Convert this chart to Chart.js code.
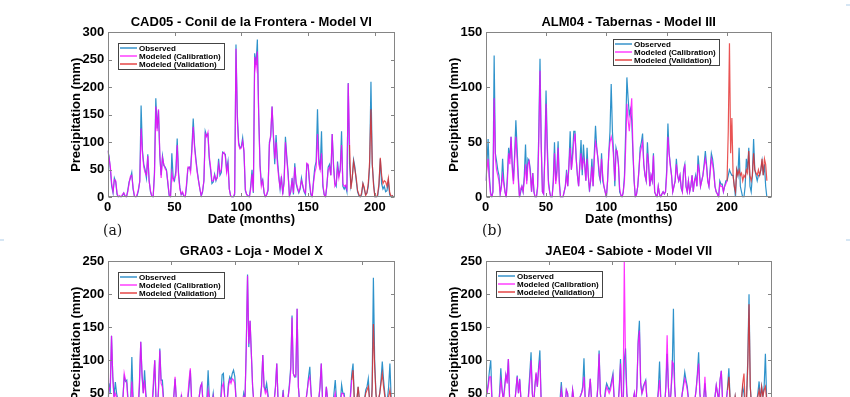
<!DOCTYPE html>
<html lang="en">
<head>
<meta charset="UTF-8">
<title>Observed vs modeled monthly precipitation</title>
<script src="https://cdn.jsdelivr.net/npm/chart.js"></script>
<style>
    body { margin: 0; width: 850px; height: 397px; overflow: hidden; background: #fff; position: relative; }
    canvas { position: absolute; }
    .panel-tag { position: absolute; font-family: 'DejaVu Serif', 'Liberation Serif', serif; font-size: 14px; color: #111; }
    .edge-mark { position: absolute; width: 4px; height: 2px; background: #d6e6f4; }
</style>
</head>
<body>
<canvas id="chartA" width="410" height="240" style="left:0px;top:0px"></canvas>
<canvas id="chartB" width="410" height="240" style="left:378px;top:0px"></canvas>
<canvas id="chartC" width="410" height="240" style="left:0px;top:229px"></canvas>
<canvas id="chartD" width="410" height="240" style="left:378px;top:229px"></canvas>
<div class="panel-tag" style="left:103px;top:222px">(a)</div>
<div class="panel-tag" style="left:482px;top:222px">(b)</div>
<div class="edge-mark" style="left:0;top:239px"></div>
<div class="edge-mark" style="left:846px;top:4px"></div>
<div class="edge-mark" style="left:846px;top:239px"></div>

<script>
// --- data (monthly precipitation, mm) ---
const SERIES_LABELS = ['Observed', 'Modeled (Calibration)', 'Modeled (Validation)'];
const X_TICKS = [0, 50, 100, 150, 200];

// (a) CAD05 - Conil de la Frontera
const OBS_A = [
    85,75,50,20,8,35,28,5,0,2,0,3,8,2,0,12,28,35,45,15,
    2,0,3,12,30,167,85,60,50,35,78,30,10,2,0,45,180,125,158,75,
    40,75,58,55,50,25,3,0,80,35,30,48,107,45,18,5,8,2,0,20,
    52,55,50,90,143,95,70,48,30,15,2,10,30,120,112,115,70,50,25,28,
    42,30,38,70,40,45,82,80,78,50,65,15,3,0,0,5,278,150,100,90,
    92,108,80,12,5,3,0,20,50,8,262,240,287,150,60,25,32,8,0,5,
    12,100,110,165,110,60,113,70,40,15,38,5,30,110,75,45,2,10,35,5,
    62,25,15,8,15,35,20,10,5,60,58,25,5,0,30,55,65,160,70,50,
    120,20,5,0,20,55,60,40,115,60,25,20,65,40,50,120,20,15,20,10,
    208,60,20,35,68,55,30,10,3,0,5,25,15,5,8,20,55,210,60,25,
    0,0,2,20,70,25,15,20,10,12,30,5,0,3,0
];
const MOD_A = [
    85,72,55,25,10,32,30,8,0,3,0,5,8,3,0,10,25,38,40,18,
    2,0,5,15,28,125,80,55,45,40,75,30,12,2,0,40,165,120,160,80,
    35,72,60,52,48,28,5,0,45,30,35,40,95,40,15,5,10,3,0,25,
    55,55,45,85,128,90,65,45,30,15,3,12,30,115,110,118,75,55,30,30,
    40,32,35,60,45,50,80,82,75,45,60,15,2,0,0,8,270,140,95,88,
    90,102,85,15,5,2,0,15,42,10,255,235,265,150,55,20,30,10,0,5,
    15,95,115,165,115,70,100,60,35,18,35,8,25,100,70,40,3,12,30,8,
    55,28,18,10,18,30,22,12,8,62,60,30,8,0,25,45,55,115,60,50,
    80,25,5,0,22,50,55,40,115,55,20,25,55,35,50,95,25,20,22,15,
    207,95,15,35,65,50,35,12,5,0,8,25,18,3,8,25,65,160,60,20,
    0,0,5,25,72,40,25,30,28,20,35,10,2,3,0
];
const CAL_END_A = 181;

// (b) ALM04 - Tabernas
const OBS_B = [
    15,30,53,20,5,0,5,129,40,33,25,20,3,10,35,15,5,0,20,45,
    35,55,30,15,40,70,45,20,0,5,10,5,20,48,15,35,33,25,5,22,
    5,0,0,10,60,126,50,5,3,40,97,50,15,5,0,0,15,50,15,25,
    51,15,0,0,0,5,10,25,10,30,60,25,40,60,60,35,20,10,30,52,
    20,48,30,15,45,20,5,15,35,10,40,65,45,35,20,15,40,15,10,5,
    0,15,40,60,103,60,40,10,45,40,30,5,2,0,5,20,60,109,90,75,
    80,70,40,15,0,3,10,25,45,50,58,30,20,15,50,30,10,20,15,40,
    5,2,0,10,3,0,3,5,3,5,25,67,40,30,20,5,10,15,35,20,
    15,20,8,5,25,30,10,5,15,5,10,20,5,15,20,10,38,25,10,15,
    20,30,42,30,15,10,25,40,35,25,10,5,3,0,15,12,12,5,10,15,
    15,20,25,22,20,20,10,0,25,20,45,10,5,0,0,10,35,25,45,10,
    5,20,53,25,20,15,20,20,25,33,20,30,10,0
];
const MOD_B = [
    15,25,35,15,3,0,5,90,35,25,20,15,3,10,20,12,5,0,15,40,
    30,55,25,12,35,55,35,15,0,8,10,5,15,30,12,30,33,20,5,22,
    5,0,0,8,50,115,45,5,3,35,85,40,12,5,0,0,12,40,12,20,
    45,12,0,0,0,5,10,20,10,30,45,25,35,50,58,35,20,10,28,40,
    25,35,30,15,35,20,8,15,28,10,35,50,45,35,25,15,35,20,10,5,
    0,15,40,50,55,50,35,15,43,42,30,8,2,0,5,15,45,85,70,60,
    75,90,45,15,0,3,10,25,40,45,50,30,20,15,40,30,10,20,15,38,
    5,2,0,10,3,0,3,5,3,5,20,55,40,28,20,5,10,15,30,20,
    15,20,10,5,22,30,10,5,15,5,10,20,5,15,18,10,30,22,10,15,
    20,28,35,28,15,10,22,35,30,22,10,5,3,0,12,10,10,5,10,12,
    15,60,140,40,72,20,10,5,25,20,25,20,22,15,20,18,25,22,42,20,
    15,20,40,25,22,20,25,20,25,35,20,35,30,15
];
const CAL_END_B = 200;

// (c) GRA03 - Loja
const OBS_C = [
    30,65,50,137,75,45,67,50,40,20,10,25,45,75,68,70,40,15,30,105,
    40,20,5,10,25,60,128,80,50,85,50,30,15,5,10,30,60,100,40,20,
    60,118,70,70,40,20,10,5,15,25,35,20,45,72,40,15,10,30,48,20,
    5,10,25,40,60,85,40,15,5,10,20,35,45,60,65,35,20,15,40,85,
    40,20,35,50,30,10,5,10,20,45,78,80,45,20,40,65,75,70,80,85,
    75,40,20,10,5,20,35,50,40,120,230,120,160,110,60,35,20,10,5,15,
    40,60,108,60,55,65,50,30,15,5,15,40,60,95,40,20,15,35,55,30,
    10,20,45,65,90,168,80,75,75,178,60,35,15,5,10,25,40,55,75,90,
    50,30,20,10,5,20,40,60,95,40,20,35,60,40,15,5,10,25,50,70,
    40,15,10,35,63,50,50,30,10,5,20,50,80,95,40,20,40,60,40,20,
    10,20,40,55,60,72,40,15,60,225,100,50,30,40,50,70,98,70,50,30,
    40,60,95,40,15,5
];
const MOD_C = [
    30,55,60,137,75,40,50,45,35,20,10,20,40,80,70,65,35,15,30,68,
    35,20,5,10,30,70,128,75,50,70,45,25,15,5,10,35,70,100,40,20,
    55,115,65,60,35,20,10,5,15,25,35,20,45,75,40,15,10,30,45,20,
    5,10,25,45,70,88,40,15,5,10,20,35,45,60,65,35,20,15,35,55,
    40,20,30,45,30,10,5,10,20,40,60,65,45,20,35,60,70,65,72,70,
    65,40,20,10,5,20,35,45,40,120,228,125,160,110,60,35,20,10,5,15,
    40,60,108,60,50,55,45,30,15,5,15,40,60,95,40,20,15,35,50,30,
    10,20,45,60,85,165,80,75,78,178,60,35,15,5,10,25,40,55,70,75,
    50,30,20,10,5,20,40,60,95,40,20,35,60,40,15,5,10,25,40,50,
    35,15,10,30,50,50,45,30,10,5,20,45,70,85,40,20,40,60,40,20,
    10,20,40,50,55,60,40,15,55,155,90,50,30,40,50,65,80,60,45,30,
    35,45,55,40,15,5
];
const CAL_END_C = 192;

// (d) JAE04 - Sabiote
const OBS_D = [
    45,50,65,85,100,40,20,10,5,15,30,50,88,55,40,60,78,70,102,40,
    20,10,15,35,55,77,50,72,40,20,10,5,10,25,50,80,112,50,30,60,
    80,60,90,115,40,20,10,5,5,10,20,15,5,10,20,30,15,5,20,40,
    67,40,20,30,55,50,25,15,30,55,40,20,10,25,40,45,50,60,103,40,
    20,30,50,72,40,20,10,20,35,60,115,50,30,20,35,55,65,60,55,60,
    70,80,40,20,10,30,60,102,40,20,100,118,50,30,15,10,20,40,50,30,
    60,130,160,65,50,60,65,70,40,20,10,5,15,25,35,20,30,55,98,40,
    20,10,30,60,110,60,30,50,80,178,60,30,15,10,20,35,50,65,82,70,
    60,40,20,10,15,25,40,55,80,112,50,30,20,40,65,40,20,10,5,10,
    20,30,45,62,50,40,70,84,40,20,10,40,60,88,40,20,10,30,45,30,
    15,10,20,40,60,50,30,40,100,200,60,30,15,10,20,35,50,68,40,60,
    45,60,110,40,20,10,5
];
const MOD_D = [
    45,50,60,75,75,40,20,10,5,15,30,45,70,55,40,55,78,65,102,40,
    20,10,15,35,55,75,50,70,40,20,10,5,10,25,45,70,100,50,30,60,
    82,60,85,100,40,20,10,5,5,10,20,15,5,10,20,30,15,5,20,35,
    55,40,20,30,55,50,25,15,30,55,40,20,10,25,40,45,50,55,75,40,
    20,30,50,72,40,20,10,20,35,60,110,50,30,20,35,50,60,55,50,55,
    65,75,40,20,10,30,55,95,40,20,250,90,50,30,15,10,20,40,50,30,
    60,125,145,65,50,55,65,68,40,20,10,5,15,25,35,20,30,50,70,40,
    20,10,30,60,138,60,30,50,98,95,60,30,15,10,20,35,50,60,72,65,
    55,40,20,10,15,25,40,55,75,95,50,30,20,40,75,40,20,10,5,10,
    20,30,45,62,50,40,70,84,40,20,10,40,55,75,40,20,10,30,45,30,
    15,10,20,40,65,80,30,40,90,185,60,30,15,10,20,35,45,55,40,60,
    45,55,60,40,20,10,5
];
const CAL_END_D = 192;

// --- styling ---
const FONT = "'Liberation Sans', Arial, Helvetica, sans-serif";
const BLUE = 'rgba(35,140,200,0.95)';
const MAGENTA = 'rgba(255,0,255,0.8)';
const RED = 'rgba(228,40,40,0.8)';
const LEGEND_COLORS = ['#2a8cc8', '#ff33ff', '#e33a3a'];
const AXIS_COLOR = '#858585';

// frame + inward ticks on all four sides
const framePlugin = {
    id: 'frame',
    afterDatasetsDraw(chart) {
        const { ctx, chartArea: a, scales: { x, y } } = chart;
        const L = Math.round(a.left) + 0.5, R = Math.round(a.right) - 0.5;
        const T = Math.round(a.top) + 0.5, B = Math.round(a.bottom) - 0.5;
        ctx.save();
        ctx.strokeStyle = AXIS_COLOR;
        ctx.lineWidth = 1;
        ctx.strokeRect(L, T, R - L, B - T);
        ctx.beginPath();
        x.ticks.forEach(t => {
            const px = Math.round(x.getPixelForValue(t.value)) + 0.5;
            ctx.moveTo(px, B); ctx.lineTo(px, B - 3.5);
            ctx.moveTo(px, T); ctx.lineTo(px, T + 3.5);
        });
        y.ticks.forEach(t => {
            const py = Math.round(y.getPixelForValue(t.value)) + 0.5;
            ctx.moveTo(L, py); ctx.lineTo(L + 3.5, py);
            ctx.moveTo(R, py); ctx.lineTo(R - 3.5, py);
        });
        ctx.stroke();
        ctx.restore();
    }
};

// boxed legend placed inside the plot area
const boxLegendPlugin = {
    id: 'boxLegend',
    afterDraw(chart, args, opts) {
        const { ctx, chartArea: a } = chart;
        const bx = Math.round(a.left + opts.dx) + 0.5;
        const by = Math.round(a.top + opts.dy) + 0.5;
        const w = 106, h = 26;
        ctx.save();
        ctx.fillStyle = '#fff';
        ctx.fillRect(bx, by, w, h);
        ctx.strokeStyle = '#444';
        ctx.lineWidth = 1;
        ctx.strokeRect(bx, by, w, h);
        ctx.font = 'bold 8px ' + FONT;
        ctx.textBaseline = 'middle';
        chart.data.datasets.forEach((ds, i) => {
            const ry = Math.round(by + 4.6 + i * 8.1);
            ctx.fillStyle = LEGEND_COLORS[i];
            ctx.fillRect(bx + 1.5, ry - 0.7, 17, 1.4);
            ctx.fillStyle = '#000';
            ctx.fillText(ds.label, bx + 20.5, ry + 0.5);
        });
        ctx.restore();
    }
};

function toPoints(values, start) {
    return values.map((v, i) => ({ x: i + start, y: v }));
}

function createPanel(canvasId, title, obs, mod, calEnd, xMax, yMax, legendPos, padRight) {
    const ctx = document.getElementById(canvasId).getContext('2d');
    const tickFont = { family: FONT, size: 13, weight: 'bold' };
    const line = color => ({ borderColor: color, borderWidth: 1.2, pointRadius: 0, tension: 0, fill: false });

    new Chart(ctx, {
        type: 'line',
        data: {
            datasets: [
                // observed underneath, modeled on top
                { label: SERIES_LABELS[0], data: toPoints(obs, 0), order: 3, ...line(BLUE) },
                { label: SERIES_LABELS[1], data: toPoints(mod.slice(0, calEnd + 1), 0), order: 1, ...line(MAGENTA) },
                { label: SERIES_LABELS[2], data: toPoints(mod.slice(calEnd), calEnd), order: 2, ...line(RED) }
            ]
        },
        options: {
            responsive: false,
            animation: false,
            devicePixelRatio: 1,
            layout: { padding: { left: 62, right: padRight, top: 0, bottom: 0 } },
            plugins: {
                legend: { display: false },
                tooltip: { enabled: false },
                title: {
                    display: true,
                    text: title,
                    fullSize: false,
                    color: '#000',
                    font: { family: FONT, size: 13, weight: 'bold' },
                    padding: { top: 14.6, bottom: 2.1 }
                },
                boxLegend: legendPos
            },
            scales: {
                x: {
                    type: 'linear',
                    min: 0,
                    max: xMax,
                    afterBuildTicks: s => { s.ticks = X_TICKS.map(v => ({ value: v })); },
                    ticks: { font: tickFont, color: '#000', padding: 2.5, maxRotation: 0, autoSkip: false },
                    grid: { display: false, drawTicks: false },
                    border: { display: false },
                    title: { display: true, text: 'Date (months)', color: '#000', font: tickFont, padding: { top: 0, bottom: 13.2 } },
                    afterFit: s => { s.height = 42.7; }
                },
                y: {
                    min: 0,
                    max: yMax,
                    ticks: { stepSize: 50, font: tickFont, color: '#000', padding: 3.4 },
                    grid: { display: false, drawTicks: false },
                    border: { display: false },
                    title: { display: true, text: 'Precipitation (mm)', color: '#000', font: tickFont, padding: { top: 6.2, bottom: 0 } },
                    afterFit: s => { s.width = 45.7; }
                }
            }
        },
        plugins: [framePlugin, boxLegendPlugin]
    });
}

createPanel('chartA', 'CAD05 - Conil de la Frontera - Model VI', OBS_A, MOD_A, CAL_END_A, 215, 300, { dx: 10, dy: 10.4 }, 15);
createPanel('chartB', 'ALM04 - Tabernas - Model III', OBS_B, MOD_B, CAL_END_B, 237, 150, { dx: 127, dy: 6.7 }, 16.3);
createPanel('chartC', 'GRA03 - Loja - Model X', OBS_C, MOD_C, CAL_END_C, 226, 250, { dx: 10.3, dy: 10.4 }, 15);
createPanel('chartD', 'JAE04 - Sabiote - Model VII', OBS_D, MOD_D, CAL_END_D, 227, 250, { dx: 10.7, dy: 9.4 }, 16.3);
</script>
</body>
</html>
